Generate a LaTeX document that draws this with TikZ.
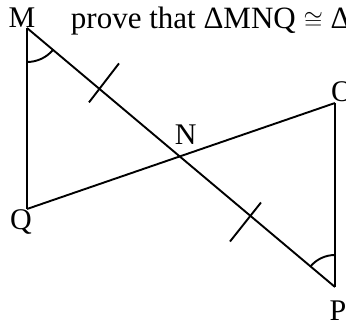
\documentclass[tikz,border=0pt]{standalone}
\usepackage{fontspec}
\setmainfont{Liberation Serif}
\usetikzlibrary{calc}

\begin{document}
\begin{tikzpicture}[x=1pt, y=1pt, line width=1.9pt,
    etiqueta/.style={font=\fontsize{30}{34}\selectfont, inner sep=0pt, anchor=base},
    marca/.style={line width=1.9pt}]
    \useasboundingbox (0,0) rectangle (346,324);
    % Vertices
    \coordinate (M) at (27,296);
    \coordinate (Q) at (27,115);
    \coordinate (P) at (335,37);
    \coordinate (O) at (335,221);
    \coordinate (N) at (intersection of M--P and Q--O);

    % Lados
    \draw (M) -- (Q);
    \draw (M) -- (P);
    \draw (Q) -- (O);
    \draw (O) -- (P);

    % Segmentos iguales
    \coordinate (t1) at ($(M)!0.237!(P)$);
    \coordinate (t2) at ($(M)!0.724!(P)$);
    \draw[marca] ($(t1)+(-11,-13)$) -- ($(t1)+(19,26)$);
    \draw[marca] ($(t2)+(-20,-26)$) -- ($(t2)+(11,13)$);

    % Angulos iguales
    \draw[marca] (M) ++(0,-34) arc[start angle=-90, end angle=-40, radius=34];
    \draw[marca] (P) ++(0,32) arc[start angle=90, end angle=140, radius=32];

    % Etiquetas
    \node[etiqueta, xshift=-5pt] (lM) at (M) {M};
    \node[etiqueta, xshift=-6pt, yshift=-21pt] (lQ) at (Q) {Q};
    \node[etiqueta, xshift=6pt, yshift=12pt] (lN) at (N) {N};
    \node[etiqueta, xshift=3pt, yshift=-34pt] (lP) at (P) {P};
    \node[etiqueta, xshift=7pt, yshift=1pt] (lO) at (O) {O};
    \node[etiqueta, anchor=base west, font=\fontsize{31}{34}\selectfont] (titulo) at (70,295) {prove that ΔMNQ $\cong$ Δ};
\end{tikzpicture}
\end{document}
